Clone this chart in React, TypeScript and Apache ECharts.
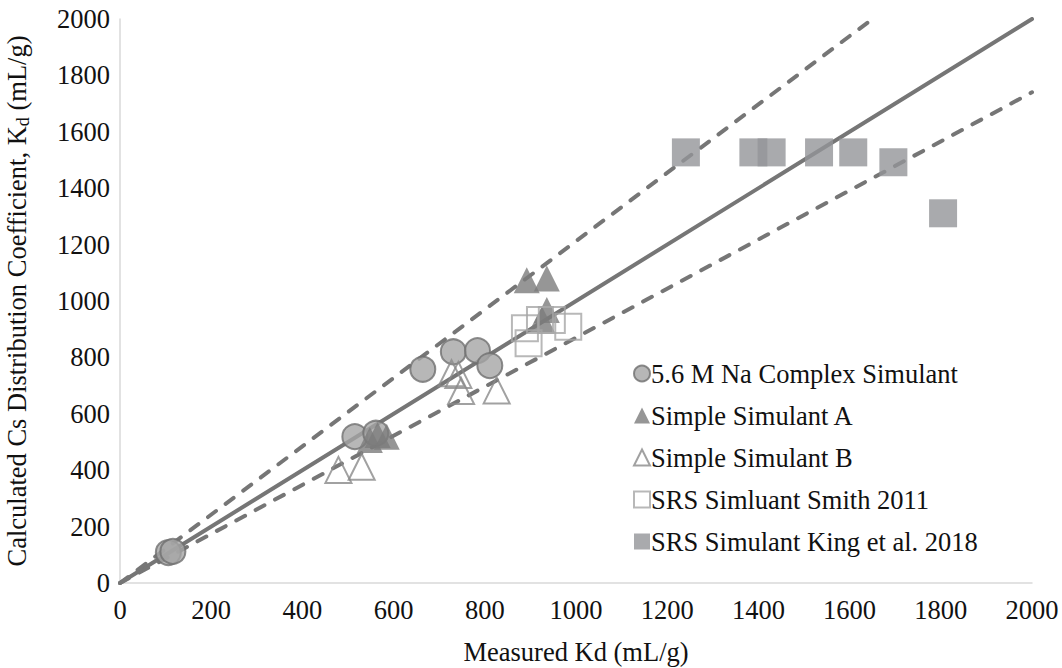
import React, { useEffect, useRef } from "react";
import * as echarts from "echarts";

const complexSimulant: number[][] = [
  [106, 108], [116, 112], [515, 519], [561, 531], [664, 758], [731, 820], [784, 824], [811, 771],
];
const simpleA: number[][] = [
  [548, 507], [565, 525], [585, 519], [892, 1074], [936, 1080], [936, 968], [925, 935],
];
const simpleB: number[][] = [
  [479, 401], [530, 412], [727, 744], [742, 738], [748, 681], [826, 683],
];
const smith2011: number[][] = [
  [888, 903], [896, 850], [921, 933], [947, 933], [983, 909],
];
const king2018: number[][] = [
  [1241, 1527], [1389, 1527], [1429, 1527], [1533, 1527], [1608, 1527], [1696, 1492], [1805, 1311],
];
const parityLine: number[][] = [[0, 0], [2000, 2000]];
const upperBound: number[][] = [[0, 0], [1650, 2000]];
const lowerBound: number[][] = [[0, 0], [2000, 1740]];

const FONT = "Liberation Serif";
const FS = 26.5;
const LINE_COLOR = "#767676";
const TEXT = "#111";

export default function App() {
  const ref = useRef<HTMLDivElement>(null);
  useEffect(() => {
    if (!ref.current) return;
    const chart = echarts.init(ref.current, undefined, { renderer: "svg" });
    const lineSeries = (data: number[][], dashed: boolean) => ({
      type: "line",
      data,
      symbol: "none",
      silent: true,
      z: 1,
      lineStyle: {
        color: LINE_COLOR,
        width: 4,
        type: dashed ? [10, 12] : "solid",
        cap: "round",
      },
    });
    const richT = { fontFamily: FONT, fontSize: FS, color: TEXT };
    const axisLabel = (margin: number) => ({
      fontFamily: FONT,
      fontSize: FS,
      color: TEXT,
      margin,
      formatter: (v: number) => String(v),
    });
    chart.setOption({
      animation: false,
      textStyle: { fontFamily: FONT },
      grid: { left: 120, right: 30, top: 19, bottom: 85, containLabel: false, outerBoundsMode: "none" },
      legend: {
        orient: "vertical",
        left: 628,
        top: 355,
        itemGap: 15,
        itemWidth: 16,
        itemHeight: 16,
        textStyle: { fontFamily: FONT, fontSize: FS, color: TEXT, padding: [0, 0, 0, -4] },
        data: [
          "5.6 M Na Complex Simulant",
          "Simple Simulant A",
          "Simple Simulant B",
          "SRS Simluant Smith 2011",
          "SRS Simulant King et al. 2018",
        ],
      },
      xAxis: {
        type: "value",
        min: 0,
        max: 2000,
        interval: 200,
        name: "Measured Kd (mL/g)",
        nameLocation: "middle",
        nameGap: 55,
        nameTextStyle: { fontFamily: FONT, fontSize: FS, color: TEXT },
        axisLine: { show: true, lineStyle: { color: "#d9d9d9", width: 1.5 } },
        axisTick: { show: false },
        splitLine: { show: false },
        axisLabel: axisLabel(13),
      },
      yAxis: {
        type: "value",
        min: 0,
        max: 2000,
        interval: 200,
        name: "{t|Calculated Cs Distribution Coefficient, K}{sub|d}{t| (mL/g)}",
        nameLocation: "middle",
        nameGap: 88,
        nameTextStyle: {
          fontFamily: FONT,
          fontSize: FS,
          color: TEXT,
          rich: {
            t: richT,
            sub: { fontFamily: FONT, fontSize: 18, color: TEXT, verticalAlign: "bottom", padding: [12, 0, 0, 0] },
          },
        },
        axisLine: { show: true, lineStyle: { color: "#d9d9d9", width: 1.5 } },
        axisTick: { show: false },
        splitLine: { show: false },
        axisLabel: axisLabel(10),
      },
      series: [
        lineSeries(parityLine, false),
        lineSeries(upperBound, true),
        lineSeries(lowerBound, true),
        {
          name: "5.6 M Na Complex Simulant",
          type: "scatter",
          data: complexSimulant,
          symbol: "circle",
          symbolSize: 25,
          z: 3,
          itemStyle: { color: "#a5a5a5", borderColor: "#6f6f6f", borderWidth: 2 },
        },
        {
          name: "Simple Simulant A",
          type: "scatter",
          data: simpleA,
          symbol: "triangle",
          symbolSize: 26,
          z: 3,
          itemStyle: { color: "#7c7c7c" },
        },
        {
          name: "Simple Simulant B",
          type: "scatter",
          data: simpleB,
          symbol: "triangle",
          symbolSize: 26,
          z: 3,
          itemStyle: { color: "rgba(255,255,255,0)", borderColor: "#8a8a8a", borderWidth: 2 },
        },
        {
          name: "SRS Simluant Smith 2011",
          type: "scatter",
          data: smith2011,
          symbol: "rect",
          symbolSize: 26,
          z: 3,
          itemStyle: { color: "rgba(255,255,255,0)", borderColor: "#a6a6a6", borderWidth: 2 },
        },
        {
          name: "SRS Simulant King et al. 2018",
          type: "scatter",
          data: king2018,
          symbol: "rect",
          symbolSize: 28,
          z: 3,
          itemStyle: { color: "#939598" },
        },
      ],
    });
    return () => chart.dispose();
  }, []);
  return (
    <div
      ref={ref}
      style={{ position: "fixed", left: 0, top: 0, width: 1062, height: 668, background: "#fff" }}
    />
  );
}
